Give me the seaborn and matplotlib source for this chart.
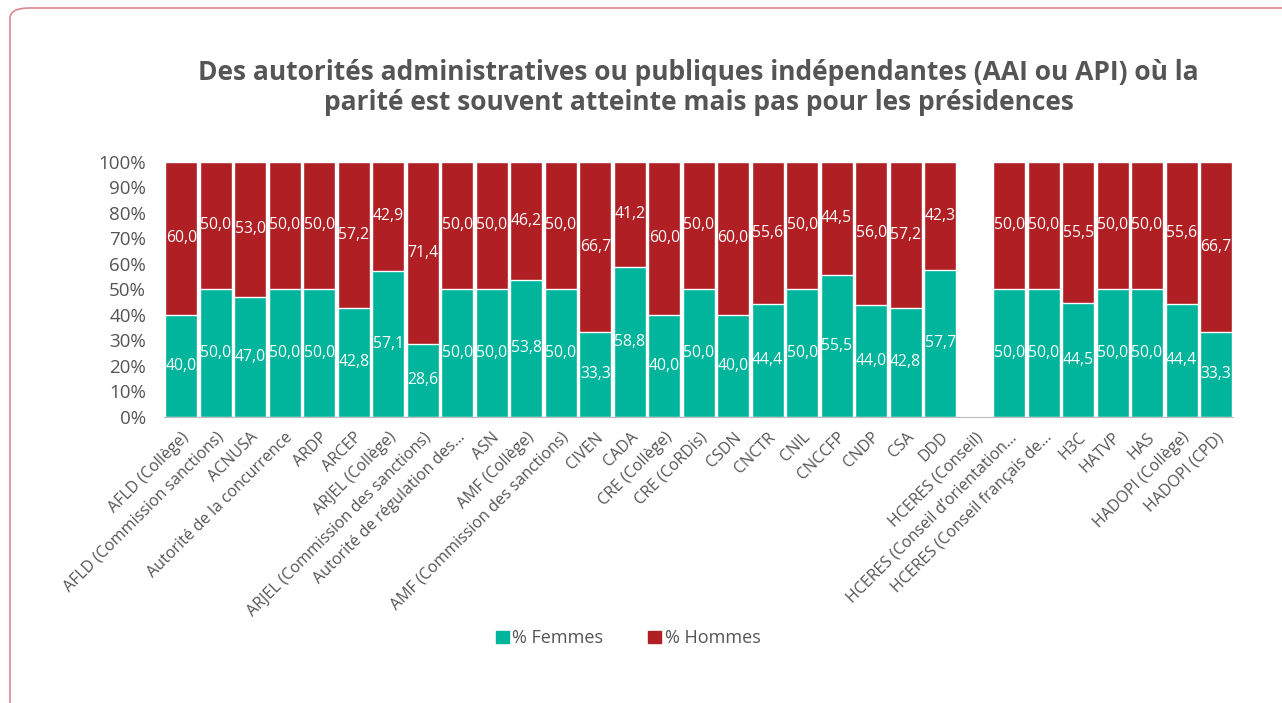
import numpy as np
import pandas as pd
import matplotlib.pyplot as plt
import seaborn as sns
from matplotlib.patches import Patch, FancyBboxPatch

# Data
categories = ["AFLD (Collège)", "AFLD (Commission sanctions)", "ACNUSA",
              "Autorité de la concurrence", "ARDP", "ARCEP", "ARJEL (Collège)",
              "ARJEL (Commission des sanctions)", "Autorité de régulation des...",
              "ASN", "AMF (Collège)", "AMF (Commission des sanctions)", "CIVEN",
              "CADA", "CRE (Collège)", "CRE (CoRDis)", "CSDN", "CNCTR", "CNIL",
              "CNCCFP", "CNDP", "CSA", "DDD", "HCERES (Conseil)",
              "HCERES (Conseil d’orientation...", "HCERES (Conseil français de...",
              "H3C", "HATVP", "HAS", "HADOPI (Collège)", "HADOPI (CPD)"]
femmes = [40.0, 50.0, 47.0, 50.0, 50.0, 42.8, 57.1, 28.6, 50.0, 50.0, 53.8,
          50.0, 33.3, 58.8, 40.0, 50.0, 40.0, 44.4, 50.0, 55.5, 44.0, 42.8,
          57.7, np.nan, 50.0, 50.0, 44.5, 50.0, 50.0, 44.4, 33.3]
hommes = [60.0, 50.0, 53.0, 50.0, 50.0, 57.2, 42.9, 71.4, 50.0, 50.0, 46.2,
          50.0, 66.7, 41.2, 60.0, 50.0, 60.0, 55.6, 50.0, 44.5, 56.0, 57.2,
          42.3, np.nan, 50.0, 50.0, 55.5, 50.0, 50.0, 55.6, 66.7]

GREEN = "#00b59c"
RED = "#b01f24"
GREY = "#555555"

df = pd.DataFrame({"cat": categories, "femmes": femmes, "hommes": hommes})
df["total"] = df["femmes"] + df["hommes"]

sns.set_style("white")
plt.rcParams['font.family'] = ['Open Sans', 'DejaVu Sans']

fig = plt.figure(figsize=(12.82, 7.03), dpi=100)
ax = fig.add_axes([0.128, 0.407, 0.834, 0.363])

# stacked: red full bar first, green on top from 0
sns.barplot(data=df, x="cat", y="total", order=categories, color=RED,
            saturation=1, width=0.93, errorbar=None, ax=ax)
sns.barplot(data=df, x="cat", y="femmes", order=categories, color=GREEN,
            saturation=1, width=0.93, errorbar=None, ax=ax)

# value labels
for i, (f, h) in enumerate(zip(femmes, hommes)):
    if np.isnan(f):
        continue
    ax.text(i, f / 2, f"{f:.1f}".replace('.', ','), ha='center', va='center',
            color='white', fontsize=11.3)
    ax.text(i, f + h / 2, f"{h:.1f}".replace('.', ','), ha='center', va='center',
            color='white', fontsize=11.3)

ax.set_xlim(-0.5, len(categories) - 0.5)
ax.set_ylim(0, 100)
ax.set_yticks(range(0, 101, 10))
ax.set_yticklabels([f"{v}%" for v in range(0, 101, 10)], fontsize=13.5, color=GREY)
ax.set_xticks(range(len(categories)))
ax.set_xticklabels(categories, rotation=45, ha='right', rotation_mode='anchor',
                   fontsize=11.5, color=GREY)
ax.tick_params(axis='y', length=0, pad=13)
ax.tick_params(axis='x', length=0, pad=9)
ax.set_xlabel("")
ax.set_ylabel("")
for s in ["top", "right", "left"]:
    ax.spines[s].set_visible(False)
ax.spines["bottom"].set_color("#bbbbbb")

fig.text(0.545, 0.875, "Des autorités administratives ou publiques indépendantes (AAI ou API) où la\nparité est souvent atteinte mais pas pour les présidences",
         ha='center', va='center', fontsize=19, fontweight='bold', color=GREY,
         linespacing=1.15)

handles = [Patch(color=GREEN, label="% Femmes"), Patch(color=RED, label="% Hommes")]
fig.legend(handles=handles, loc='center', bbox_to_anchor=(0.49, 0.092), ncol=2,
           frameon=False, fontsize=13, handlelength=0.7, handleheight=0.7,
           handletextpad=0.2, columnspacing=2.5, labelcolor=GREY)

# rounded frame around the chart
frame = FancyBboxPatch((10 / 1282, -0.05), 1.1, 1.05 - 8 / 703,
                       boxstyle="round,pad=0,rounding_size=0.015",
                       transform=fig.transFigure, fill=False,
                       edgecolor="#d98a8f", linewidth=1.2)
fig.patches.append(frame)

fig.savefig("out.png", dpi=100)
